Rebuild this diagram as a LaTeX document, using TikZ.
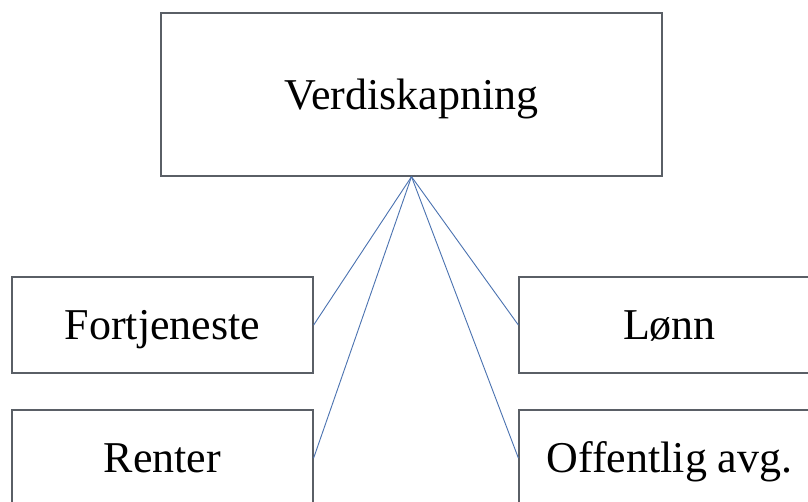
\documentclass[tikz,border=0pt]{standalone}
\usepackage{fontspec}
\setmainfont{Liberation Serif}
\definecolor{vkframe}{HTML}{5A5F66}
\definecolor{vkline}{HTML}{4A72B0}
\usetikzlibrary{positioning}

\begin{document}
\begin{tikzpicture}[
    x=1pt, y=-1pt,
    box/.style={draw=vkframe, line width=1.3pt, minimum width=301pt, minimum height=96pt,
                inner sep=0pt, text height=29pt, text depth=0pt,
                font=\fontsize{44}{50}\selectfont},
    link/.style={vkline, line width=0.9pt}
  ]
    \useasboundingbox (0,0) rectangle (808,501);
    \clip (0,0) rectangle (808,501);
    \fill[white] (0,0) rectangle (808,501);

    \node[box, minimum width=501pt, minimum height=163pt] (vs) at (411.5,94.5) {Verdiskapning};
    \node[box] (fo) at (162.5,325) {Fortjeneste};
    \node[box] (re) at (162.5,458) {Renter};
    \node[box] (lo) at (669.5,325) {Lønn};
    \node[box] (oa) at (669.5,458) {Offentlig avg.};

    \draw[link] (vs.south) -- (fo.east);
    \draw[link] (vs.south) -- (re.east);
    \draw[link] (vs.south) -- (lo.west);
    \draw[link] (vs.south) -- (oa.west);
  \end{tikzpicture}
\end{document}
